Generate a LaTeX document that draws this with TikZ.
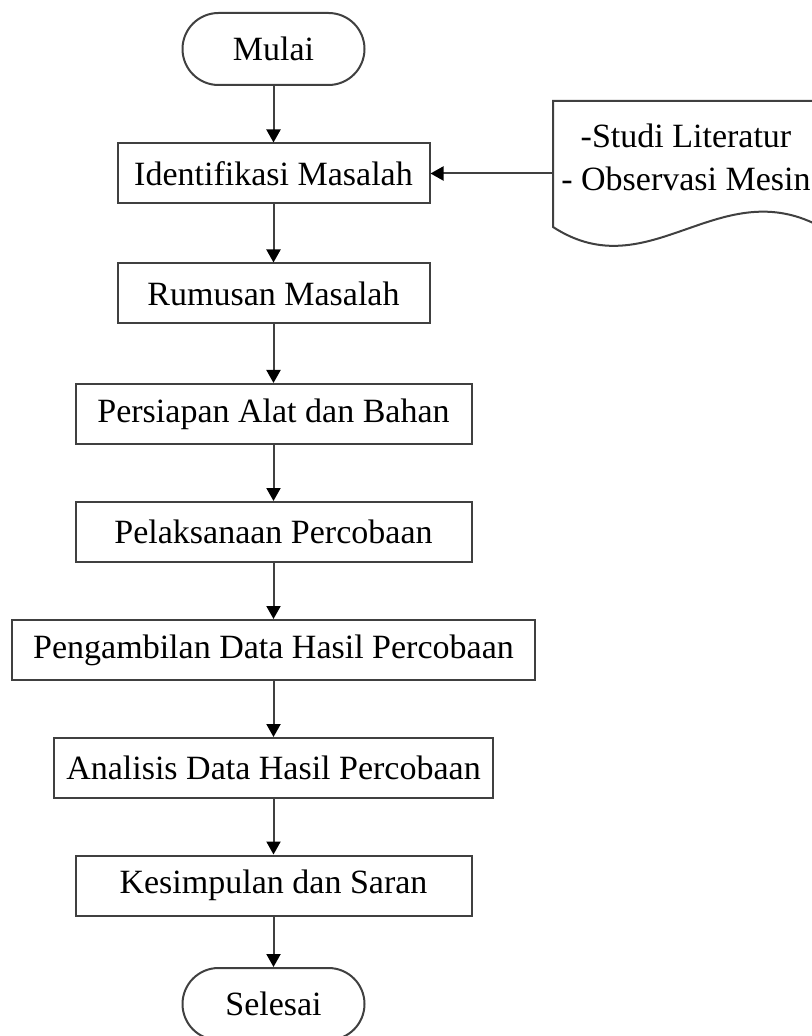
\documentclass[tikz,border=0pt]{standalone}
\usepackage{fontspec}
\setmainfont{Liberation Serif}
\usetikzlibrary{arrows.meta}

\begin{document}
\begin{tikzpicture}[x=0.5pt,y=-0.5pt,
  every node/.style={font=\fontsize{17}{21.5}\selectfont, text=black},
  terminal/.style={draw=black!75, line width=1pt, rounded corners=18pt,
    minimum width=91pt, minimum height=36pt, inner sep=0pt},
  process/.style={draw=black!75, line width=1pt, minimum height=30pt, inner sep=0pt},
  flow/.style={draw=black!75, line width=1pt, -{Triangle[width=7pt,length=6.5pt,black]}}]
\useasboundingbox (0,0) rectangle (811,1036);
% Start and end
\node[terminal] (mulai) at (273.5,49) {Mulai};
\node[terminal] (selesai) at (273.5,1004) {Selesai};
% Process steps
\node[process, minimum width=156pt] (identifikasi) at (273.5,173.5) {Identifikasi Masalah};
\node[process, minimum width=156pt] (rumusan) at (273.5,293.5) {Rumusan Masalah};
\node[process, minimum width=198pt] (persiapan) at (273.5,414) {Persiapan Alat dan Bahan};
\node[process, minimum width=198pt] (pelaksanaan) at (273.5,532) {Pelaksanaan Percobaan};
\node[process, minimum width=261.5pt] (pengambilan) at (273.5,650) {Pengambilan Data Hasil Percobaan};
\node[process, minimum width=219.5pt] (analisis) at (273.5,768) {Analisis Data Hasil Percobaan};
\node[process, minimum width=198pt] (kesimpulan) at (273.5,885.5) {Kesimpulan dan Saran};
% Document with sources
\draw[draw=black!75, line width=1pt] (823,101) -- (553,101) -- (553,227)
  .. controls (650,290) and (720,170) .. (823,228);
\node[align=center] (sumber) at (686,157) {-Studi Literatur\\- Observasi Mesin};
\coordinate (docleft) at (553,173.5);
% Arrows
\draw[flow] (mulai) -- (identifikasi);
\draw[flow] (identifikasi) -- (rumusan);
\draw[flow] (rumusan) -- (persiapan);
\draw[flow] (persiapan) -- (pelaksanaan);
\draw[flow] (pelaksanaan) -- (pengambilan);
\draw[flow] (pengambilan) -- (analisis);
\draw[flow] (analisis) -- (kesimpulan);
\draw[flow] (kesimpulan) -- (selesai);
\draw[flow] (docleft) -- (identifikasi.east);
\end{tikzpicture}
\end{document}
